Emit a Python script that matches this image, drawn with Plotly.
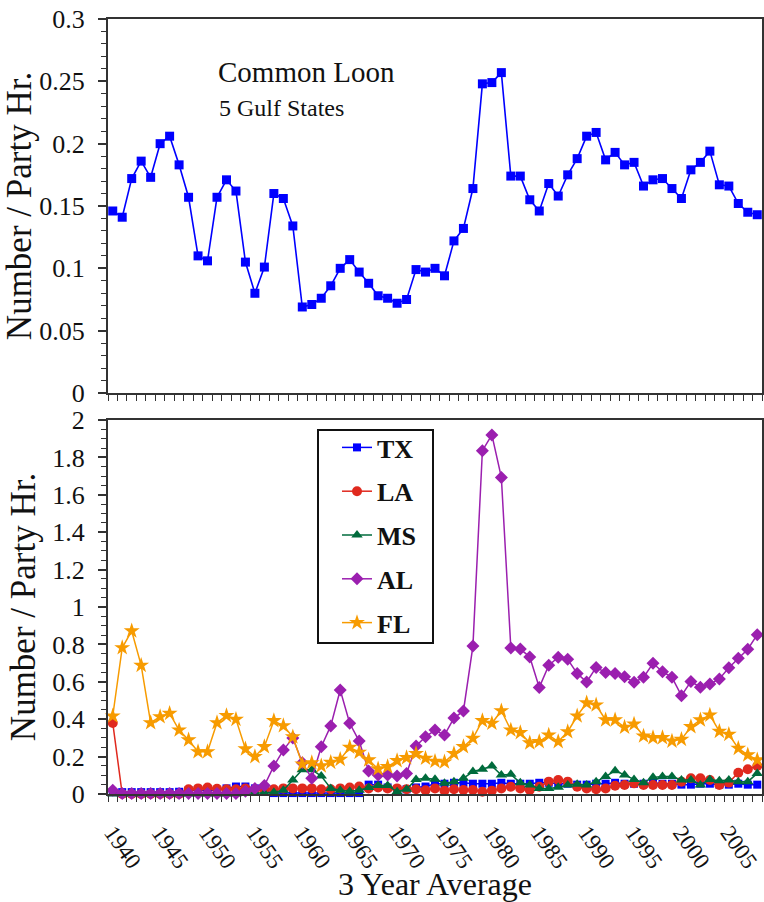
import plotly.graph_objects as go

years = list(range(1940, 2009))
tick_years = [1940, 1945, 1950, 1955, 1960, 1965, 1970, 1975, 1980, 1985, 1990, 1995, 2000, 2005]

total = [0.146, 0.141, 0.172, 0.186, 0.173, 0.200, 0.206, 0.183, 0.157, 0.110,
         0.106, 0.157, 0.171, 0.162, 0.105, 0.080, 0.101, 0.160, 0.156, 0.134,
         0.069, 0.071, 0.076, 0.086, 0.100, 0.107, 0.097, 0.088, 0.078, 0.076,
         0.072, 0.075, 0.099, 0.097, 0.100, 0.094, 0.122, 0.132, 0.164, 0.248,
         0.249, 0.257, 0.174, 0.174, 0.155, 0.146, 0.168, 0.158, 0.175, 0.188,
         0.206, 0.209, 0.187, 0.193, 0.183, 0.185, 0.166, 0.171, 0.172, 0.164,
         0.156, 0.179, 0.185, 0.194, 0.167, 0.166, 0.152, 0.145, 0.143]

tx = [0.010, 0.010, 0.010, 0.010, 0.010, 0.010, 0.010, 0.012, 0.020, 0.020,
      0.022, 0.020, 0.030, 0.040, 0.040, 0.030, 0.015, 0.005, 0.005, 0.005,
      0.005, 0.005, 0.005, 0.005, 0.005, 0.005, 0.005, 0.050, 0.050, 0.035,
      0.025, 0.025, 0.035, 0.040, 0.055, 0.055, 0.060, 0.060, 0.055, 0.055,
      0.055, 0.060, 0.055, 0.055, 0.055, 0.060, 0.060, 0.055, 0.055, 0.050,
      0.050, 0.055, 0.055, 0.060, 0.055, 0.055, 0.055, 0.060, 0.055, 0.055,
      0.050, 0.050, 0.055, 0.055, 0.050, 0.050, 0.055, 0.050, 0.050]

la = [0.380, 0.000, 0.000, 0.000, 0.000, 0.000, 0.000, 0.000, 0.025, 0.030,
      0.035, 0.028, 0.025, 0.025, 0.030, 0.020, 0.025, 0.025, 0.030, 0.030,
      0.030, 0.030, 0.025, 0.025, 0.030, 0.035, 0.040, 0.030, 0.035, 0.030,
      0.030, 0.025, 0.025, 0.020, 0.030, 0.018, 0.025, 0.021, 0.021, 0.012,
      0.018, 0.030, 0.039, 0.030, 0.021, 0.039, 0.066, 0.075, 0.066, 0.039,
      0.030, 0.025, 0.030, 0.044, 0.048, 0.057, 0.048, 0.048, 0.048, 0.048,
      0.066, 0.084, 0.084, 0.075, 0.048, 0.061, 0.114, 0.132, 0.150]

ms = [0.000, 0.000, 0.000, 0.000, 0.000, 0.000, 0.000, 0.000, 0.000, 0.000,
      0.000, 0.000, 0.000, 0.000, 0.005, 0.005, 0.005, 0.010, 0.020, 0.075,
      0.130, 0.130, 0.096, 0.030, 0.020, 0.015, 0.020, 0.035, 0.045, 0.045,
      0.012, 0.025, 0.078, 0.084, 0.079, 0.057, 0.066, 0.084, 0.120, 0.132,
      0.150, 0.102, 0.105, 0.060, 0.048, 0.030, 0.030, 0.036, 0.048, 0.052,
      0.048, 0.066, 0.093, 0.125, 0.102, 0.078, 0.060, 0.089, 0.093, 0.093,
      0.075, 0.075, 0.048, 0.078, 0.071, 0.075, 0.066, 0.066, 0.110]

al = [0.020, 0.003, 0.003, 0.003, 0.003, 0.003, 0.003, 0.003, 0.003, 0.003,
      0.003, 0.003, 0.003, 0.003, 0.015, 0.030, 0.045, 0.150, 0.235, 0.300,
      0.167, 0.084, 0.253, 0.364, 0.556, 0.378, 0.283, 0.123, 0.102, 0.102,
      0.096, 0.110, 0.257, 0.306, 0.342, 0.315, 0.406, 0.444, 0.791, 1.836,
      1.920, 1.693, 0.781, 0.775, 0.733, 0.570, 0.688, 0.731, 0.720, 0.645,
      0.599, 0.677, 0.650, 0.645, 0.627, 0.597, 0.624, 0.699, 0.654, 0.624,
      0.526, 0.601, 0.571, 0.588, 0.615, 0.675, 0.726, 0.774, 0.852]

fl = [0.417, 0.782, 0.872, 0.688, 0.381, 0.413, 0.431, 0.342, 0.289, 0.226,
      0.226, 0.381, 0.419, 0.399, 0.241, 0.200, 0.253, 0.392, 0.365, 0.305,
      0.160, 0.167, 0.150, 0.169, 0.185, 0.250, 0.223, 0.182, 0.134, 0.146,
      0.178, 0.194, 0.216, 0.191, 0.175, 0.171, 0.216, 0.253, 0.298, 0.392,
      0.378, 0.445, 0.342, 0.328, 0.273, 0.280, 0.315, 0.280, 0.333, 0.417,
      0.487, 0.476, 0.396, 0.396, 0.357, 0.374, 0.310, 0.301, 0.301, 0.283,
      0.292, 0.360, 0.396, 0.422, 0.335, 0.319, 0.244, 0.209, 0.182]

states = ["TX", "LA", "MS", "AL", "FL"]
state_values = [tx, la, ms, al, fl]
colors = ["#0000FF", "#E0291E", "#006B3C", "#9B1FAF", "#F79B00"]
symbols = ["square", "circle", "triangle-up", "diamond", "star"]
sizes = [8, 10, 10, 10, 12]

FONT = "Liberation Serif"
AX = "#333333"
W, H = 764, 902
L, R, T, B = 108, 2, 19, 108
PW, PH = W - L - R, H - T - B


def px_x(p):
    return (p - L) / PW


def px_y(p):
    return (H - B - p) / PH


fig = go.Figure()

fig.add_trace(go.Scatter(
    x=years, y=total, mode="lines+markers", showlegend=False,
    line=dict(color="#0000FF", width=1.6),
    marker=dict(symbol="square", size=9, color="#0000FF"),
    xaxis="x", yaxis="y", cliponaxis=False,
))

for name, vals, c, s, sz in zip(states, state_values, colors, symbols, sizes):
    fig.add_trace(go.Scatter(
        x=years, y=vals, mode="lines+markers", name=name,
        legendgroup=name,
        line=dict(color=c, width=1.5),
        marker=dict(symbol=s, size=sz, color=c),
        xaxis="x2", yaxis="y2", cliponaxis=False,
    ))


def xaxis_cfg(show_labels, anchor):
    return dict(
        range=[1939.5, 2008.5], anchor=anchor, automargin=False,
        tickmode="array", tickvals=tick_years, ticktext=[str(t) for t in tick_years],
        ticks="", showticklabels=show_labels, tickangle=55,
        ticklabeloverflow="allow", ticklabelstandoff=14,
        tickfont=dict(family=FONT, size=23, color="#111"),
        showline=True, linecolor=AX, linewidth=2, mirror=True,
        showgrid=False, zeroline=False,
        minor=dict(ticks="outside", tick0=1939.5, dtick=1, ticklen=6,
                   tickwidth=1.2, tickcolor=AX, showgrid=False),
    )


def yaxis_cfg(dom, rng, dtick, minor_dtick, anchor):
    return dict(
        domain=dom, range=rng, anchor=anchor, automargin=False,
        tickmode="linear", tick0=0, dtick=dtick,
        ticks="outside", ticklen=8, tickwidth=1.5, tickcolor=AX,
        ticklabelstandoff=8,
        tickfont=dict(family=FONT, size=26, color="#111"),
        showline=True, linecolor=AX, linewidth=2, mirror=True,
        showgrid=False, zeroline=False,
        minor=dict(ticks="outside", dtick=minor_dtick, ticklen=5, tickwidth=1.2, tickcolor=AX),
        title=dict(text="Number / Party Hr.", font=dict(family=FONT, size=35, color="#111"), standoff=6),
    )


top_dom = [px_y(393), 1.0]
bot_dom = [0.0, px_y(420)]

fig.update_layout(
    width=W, height=H,
    margin=dict(l=L, r=R, t=T, b=B),
    paper_bgcolor="white", plot_bgcolor="white",
    font=dict(family=FONT, color="#111"),
    xaxis=xaxis_cfg(False, "y"),
    xaxis2=dict(**xaxis_cfg(True, "y2"),
                title=dict(text="3 Year Average", font=dict(family=FONT, size=32, color="#111"), standoff=2)),
    yaxis=yaxis_cfg(top_dom, [0, 0.3], 0.05, 0.01, "x"),
    yaxis2=yaxis_cfg(bot_dom, [0, 2], 0.2, 0.05, "x2"),
    legend=dict(
        x=px_x(337), y=px_y(424), xanchor="left", yanchor="top",
        bgcolor="rgba(0,0,0,0)", borderwidth=0,
        font=dict(family=FONT, size=26, color="#111", weight="bold"),
        tracegroupgap=7, itemwidth=30,
    ),
    shapes=[dict(type="rect", xref="paper", yref="paper",
                 x0=px_x(318), x1=px_x(433), y0=px_y(643), y1=px_y(430),
                 line=dict(color="#111", width=2), fillcolor="white", layer="below")],
    annotations=[
        dict(text="Common Loon", x=px_x(216), y=px_y(72), xref="paper", yref="paper",
             xanchor="left", yanchor="middle", showarrow=False,
             font=dict(family=FONT, size=29, color="#111")),
        dict(text="5 Gulf States", x=px_x(217), y=px_y(108), xref="paper", yref="paper",
             xanchor="left", yanchor="middle", showarrow=False,
             font=dict(family=FONT, size=24, color="#111")),
    ],
)

fig.write_html("out.html")
